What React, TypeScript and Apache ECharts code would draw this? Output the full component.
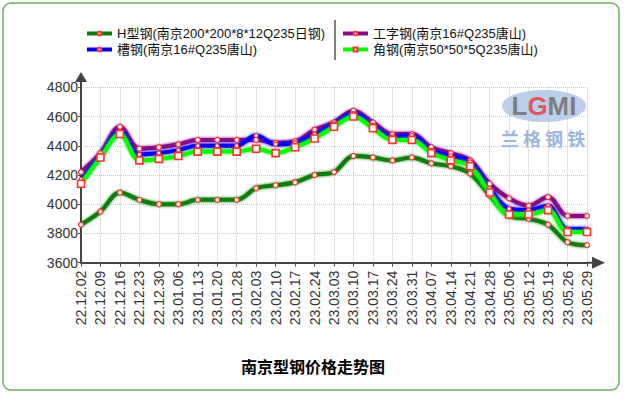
import React, { useEffect, useRef } from "react";
import * as echarts from "echarts";

const categories = [
  "22.12.02", "22.12.09", "22.12.16", "22.12.23", "22.12.30", "23.01.06", "23.01.13",
  "23.01.20", "23.01.28", "23.02.03", "23.02.10", "23.02.17", "23.02.24", "23.03.03",
  "23.03.10", "23.03.17", "23.03.24", "23.03.31", "23.04.07", "23.04.14", "23.04.21",
  "23.04.28", "23.05.06", "23.05.12", "23.05.19", "23.05.26", "23.05.29",
];

const hSteel = [3860, 3950, 4080, 4030, 4000, 4000, 4030, 4030, 4030, 4110, 4130, 4150, 4200, 4220, 4330, 4320, 4300, 4320, 4280, 4260, 4210, 4060, 3920, 3900, 3860, 3740, 3720];
const iBeam = [4220, 4350, 4530, 4380, 4390, 4410, 4440, 4440, 4440, 4440, 4420, 4430, 4510, 4560, 4640, 4560, 4480, 4480, 4390, 4350, 4300, 4140, 4040, 3990, 4050, 3920, 3920];
const channel = [4170, 4330, 4500, 4340, 4350, 4370, 4400, 4400, 4400, 4470, 4410, 4420, 4480, 4550, 4620, 4540, 4460, 4470, 4370, 4330, 4290, 4110, 3970, 3960, 3990, 3830, 3830];
const angle = [4140, 4320, 4480, 4300, 4310, 4330, 4360, 4360, 4360, 4380, 4350, 4390, 4450, 4530, 4600, 4520, 4440, 4440, 4350, 4300, 4260, 4080, 3930, 3930, 3960, 3810, 3810];

const seriesNames = [
  "H型钢(南京200*200*8*12Q235日钢)",
  "工字钢(南京16#Q235唐山)",
  "槽钢(南京16#Q235唐山)",
  "角钢(南京50*50*5Q235唐山)",
];

const yTicks = { min: 3600, max: 4800, interval: 200 };
const chartTitle = "南京型钢价格走势图";

const FONT = "'Liberation Sans', Arial, 'Noto Sans CJK SC', sans-serif";

function lineSeries(name: string, data: number[], color: string, symbol: string, size: number) {
  return {
    name,
    type: "line",
    data,
    smooth: 0.35,
    symbol,
    symbolSize: size,
    showSymbol: true,
    lineStyle: { color, width: 4, shadowColor: color, shadowBlur: 3 },
    itemStyle: {
      color: "#fff4f4",
      borderColor: "#ff3030",
      borderWidth: symbol === "rect" ? 1.6 : 1.2,
    },
  };
}

export default function App() {
  const ref = useRef<HTMLDivElement>(null);
  useEffect(() => {
    if (!ref.current) return;
    const chart = echarts.init(ref.current, undefined, { renderer: "svg" });
    const legendCommon = {
      orient: "vertical",
      itemWidth: 25,
      itemHeight: 5,
      itemGap: 3,
      textStyle: { fontSize: 13, color: "#111", fontFamily: FONT },
      lineStyle: { width: 4 },
    };
    chart.setOption({
      animation: false,
      backgroundColor: "#ffffff",
      title: {
        text: chartTitle,
        left: "center",
        top: 353,
        textStyle: { fontSize: 16, fontWeight: "bold", color: "#000", fontFamily: "'Noto Sans CJK SC', sans-serif" },
      },
      legend: [
        { ...legendCommon, left: 80, top: 22, data: [seriesNames[0], seriesNames[2]] },
        { ...legendCommon, left: 336, top: 22, data: [seriesNames[1], seriesNames[3]] },
      ],
      grid: { left: 81, right: 39, top: 87.3, bottom: 134.3, containLabel: false },
      xAxis: {
        type: "category",
        data: categories,
        boundaryGap: false,
        axisLine: {
          lineStyle: { color: "#444", width: 2 },
          symbol: ["none", "path://M6,0 L12,13 L7,13 L7,18 L5,18 L5,13 L0,13 Z"],
          symbolSize: [12, 18],
          symbolOffset: [0, 9],
        },
        axisTick: { show: true, length: 4, lineStyle: { color: "#555" } },
        axisLabel: { rotate: 90, fontSize: 14, color: "#333", margin: 8, fontFamily: FONT, interval: 0 },
        splitLine: { show: true, lineStyle: { color: "#c8c8c8", type: "dotted", width: 1 } },
      },
      yAxis: {
        type: "value",
        min: yTicks.min,
        max: yTicks.max,
        interval: yTicks.interval,
        axisLine: {
          show: true,
          lineStyle: { color: "#444", width: 2 },
          symbol: ["none", "path://M6,0 L12,10 L7,10 L7,16 L5,16 L5,10 L0,10 Z"],
          symbolSize: [12, 16],
          symbolOffset: [0, 7.3],
        },
        axisTick: { show: true, length: 3, lineStyle: { color: "#555" } },
        axisLabel: { fontSize: 14, color: "#333", margin: 3, fontFamily: FONT, formatter: (v: number) => String(v) },
        splitLine: { show: true, lineStyle: { color: "#c8c8c8", type: "dotted", width: 1 } },
      },
      graphic: [
        {
          type: "rect",
          shape: { x: 3, y: 3, width: 616, height: 387, r: 8 },
          style: { fill: "none", stroke: "#6db35f", lineWidth: 1.5 },
          z: -1,
        },
        {
          type: "line",
          shape: { x1: 335, y1: 20, x2: 335, y2: 60 },
          style: { stroke: "#000", lineWidth: 1 },
        },
        {
          type: "group",
          z: -1,
          children: [
            {
              type: "ellipse",
              shape: { cx: 544, cy: 106, rx: 42, ry: 16 },
              style: { fill: "rgba(120,160,215,0.5)" },
            },
            {
              type: "text",
              x: 544,
              y: 106,
              style: {
                text: "{g|L}{r|G}{g|MI}",
                align: "center",
                verticalAlign: "middle",
                rich: {
                  g: { fill: "rgba(115,115,115,0.9)", font: "bold 26px 'Liberation Sans', Arial" },
                  r: { fill: "rgba(230,70,70,0.9)", font: "bold 26px 'Liberation Sans', Arial" },
                },
              },
            },
            {
              type: "text",
              x: 543,
              y: 138,
              style: {
                text: "兰 格 钢 铁",
                fill: "rgba(110,150,210,0.7)",
                font: "bold 18px 'Noto Sans CJK SC'",
                align: "center",
                verticalAlign: "middle",
              },
            },
          ],
        },
      ],
      series: [
        lineSeries(seriesNames[0], hSteel, "#0b7d0b", "circle", 5),
        lineSeries(seriesNames[1], iBeam, "#860a86", "circle", 5),
        lineSeries(seriesNames[2], channel, "#0000ff", "circle", 4),
        lineSeries(seriesNames[3], angle, "#00ff00", "rect", 7),
      ],
    });
    return () => chart.dispose();
  }, []);
  return <div ref={ref} style={{ position: "absolute", left: 0, top: 0, width: 626, height: 397 }} />;
}
